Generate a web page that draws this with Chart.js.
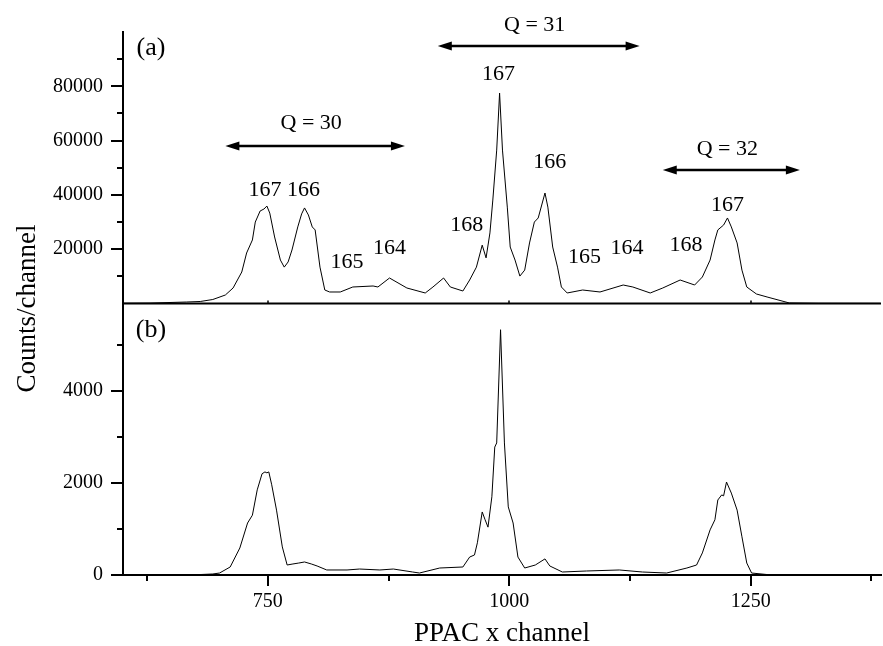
<!DOCTYPE html>
<html>
<head>
<meta charset="utf-8">
<script src="https://cdn.jsdelivr.net/npm/chart.js@4"></script>
<style>
  html, body { margin: 0; padding: 0; background: #fff; }
  #wrap { width: 883px; height: 646px; }
</style>
</head>
<body>
<div id="wrap"><canvas id="c" width="883" height="646"></canvas></div>
<script>
// ---- data: panel (a) ----
const channelA = [600, 628, 666, 680, 693, 706, 714, 723, 728, 734, 737, 742, 746, 749, 752, 757, 763, 767, 771, 775, 781, 785, 788, 792, 796, 799, 804, 809, 814, 825, 838, 859, 864, 876, 894, 913, 921, 932, 939, 952, 959, 966, 972, 976, 980, 983, 987, 990, 993, 998, 1001, 1006, 1011, 1016, 1021, 1026, 1030, 1037, 1040, 1045, 1050, 1054, 1060, 1076, 1094, 1118, 1128, 1146, 1159, 1177, 1192, 1200, 1208, 1213, 1216, 1222, 1226, 1230, 1236, 1241, 1246, 1256, 1267, 1290, 1320, 1384];
const countsA  = [100, 150, 550, 740, 1470, 3130, 5710, 11600, 18600, 23400, 30000, 34070, 34800, 35900, 33300, 24500, 16000, 13400, 15300, 19700, 28200, 33000, 35200, 32600, 28200, 27100, 13400, 4970, 4240, 4240, 6080, 6450, 6080, 9390, 5710, 3870, 6080, 9390, 6080, 4600, 8650, 13400, 21500, 16800, 26000, 38100, 56500, 77500, 56500, 35500, 20800, 16000, 10100, 12300, 22300, 30000, 31500, 40700, 35500, 20800, 13400, 6080, 3870, 4970, 4240, 6810, 6080, 3870, 5710, 8650, 6810, 9760, 16000, 23400, 27100, 28900, 31500, 28200, 22300, 12300, 6080, 3500, 2400, 200, 80, 50];

// ---- data: panel (b) ----
const channelB = [600, 680, 693, 700, 711, 721, 729, 734, 739, 744, 747, 749, 751, 754, 759, 765, 770, 776, 782, 788, 795, 801, 811, 832, 845, 866, 880, 900, 907, 928, 952, 959, 964, 967, 972, 975, 978, 982, 985, 987, 991, 995, 999, 1004, 1009, 1016, 1027, 1037, 1042, 1055, 1080, 1114, 1138, 1163, 1184, 1194, 1200, 1208, 1213, 1216, 1220, 1222, 1225, 1230, 1236, 1241, 1246, 1251, 1267, 1384];
const countsB  = [5, 10, 22, 43, 174, 587, 1130, 1300, 1850, 2200, 2240, 2220, 2240, 1960, 1410, 610, 217, 240, 260, 283, 240, 196, 109, 109, 130, 109, 130, 65, 43, 152, 174, 390, 435, 700, 1370, 1200, 1040, 1700, 2780, 2870, 5330, 2870, 1480, 1130, 390, 152, 217, 350, 196, 65, 87, 109, 65, 43, 152, 217, 480, 980, 1200, 1630, 1740, 1720, 2020, 1780, 1410, 830, 260, 43, 10, 0];

// ---- tick values ----
const xMajorTicks = [750, 1000, 1250];
const xMinorTicks = [625, 875, 1125, 1375];
const yaMajorTicks = [20000, 40000, 60000, 80000];
const yaMinorTicks = [10000, 30000, 50000, 70000, 90000];
const ybMajorTicks = [0, 2000, 4000];
const ybMinorTicks = [1000, 3000, 5000];

// ---- annotations (panel a), in data units ----
const peakLabels = ['167', '166', '165', '164', '168', '167', '166', '165', '164', '168', '167'];
const peakLabelX = [747, 787, 832, 876, 956, 989, 1042, 1078, 1122, 1183, 1226];
const peakLabelY = [41800, 41800, 15300, 20400, 28900, 84500, 52100, 17100, 20400, 21500, 36300];
const chargeLabels = ['Q = 30', 'Q = 31', 'Q = 32'];
const chargeFrom = [706, 926, 1159];
const chargeTo = [892, 1135, 1301];
const chargeArrowY = [58000, 94800, 49200];
const chargeTextY = [66500, 102600, 57000];

const FONT = '"Liberation Serif", "Times New Roman", serif';

const annotPlugin = {
  id: 'annot',
  afterDraw(chart) {
    const ctx = chart.ctx;
    const x = chart.scales.x, ya = chart.scales.ya, yb = chart.scales.yb;
    const L = chart.chartArea.left;
    ctx.save();
    ctx.strokeStyle = '#000';
    ctx.fillStyle = '#000';
    ctx.lineWidth = 2;
    // panel (a) baseline
    const y0a = ya.getPixelForValue(0);
    ctx.beginPath();
    ctx.moveTo(L, y0a); ctx.lineTo(chart.chartArea.right, y0a); ctx.stroke();
    // y ticks
    const yt = (scale, vals, len) => {
      vals.forEach(v => {
        const p = Math.round(scale.getPixelForValue(v));
        ctx.beginPath(); ctx.moveTo(L - len, p); ctx.lineTo(L, p); ctx.stroke();
      });
    };
    yt(ya, yaMajorTicks, 12); yt(ya, yaMinorTicks, 6);
    yt(yb, ybMajorTicks, 12); yt(yb, ybMinorTicks, 6);
    // x ticks
    const yB = yb.getPixelForValue(0);
    const xt = (vals, len, base, dir) => {
      vals.forEach(v => {
        const p = Math.round(x.getPixelForValue(v));
        ctx.beginPath(); ctx.moveTo(p, base); ctx.lineTo(p, base + dir * len); ctx.stroke();
      });
    };
    xt(xMajorTicks, 11, yB, 1); xt(xMinorTicks, 6, yB, 1);
    ctx.lineWidth = 1.5;
    xt(xMajorTicks, 3, y0a, -1);
    ctx.lineWidth = 2;

    // arrows
    const arrow = (x1, x2, y) => {
      const h = 14, w = 4.5;
      ctx.lineWidth = 2.5;
      ctx.beginPath(); ctx.moveTo(x1 + h - 2, y); ctx.lineTo(x2 - h + 2, y); ctx.stroke();
      ctx.beginPath(); ctx.moveTo(x1, y); ctx.lineTo(x1 + h, y - w); ctx.lineTo(x1 + h, y + w); ctx.closePath(); ctx.fill();
      ctx.beginPath(); ctx.moveTo(x2, y); ctx.lineTo(x2 - h, y - w); ctx.lineTo(x2 - h, y + w); ctx.closePath(); ctx.fill();
    };
    ctx.textAlign = 'center';
    ctx.textBaseline = 'middle';
    ctx.font = '22px ' + FONT;
    chargeLabels.forEach((t, i) => {
      const x1 = x.getPixelForValue(chargeFrom[i]), x2 = x.getPixelForValue(chargeTo[i]);
      arrow(x1, x2, ya.getPixelForValue(chargeArrowY[i]));
      ctx.fillText(t, (x1 + x2) / 2 - 4, ya.getPixelForValue(chargeTextY[i]));
    });
    peakLabels.forEach((t, i) => {
      ctx.fillText(t, x.getPixelForValue(peakLabelX[i]), ya.getPixelForValue(peakLabelY[i]));
    });
    // panel labels
    ctx.font = '26px ' + FONT;
    ctx.fillText('(a)', L + 28, chart.chartArea.top + 16);
    ctx.fillText('(b)', L + 28, y0a + 27);
    // y axis title
    ctx.font = '27px ' + FONT;
    ctx.translate(28, (chart.chartArea.top + yB) / 2 + 5);
    ctx.rotate(-Math.PI / 2);
    ctx.fillText('Counts/channel', 0, 0);
    ctx.restore();
  }
};

const yTickFont = { family: FONT, size: 20 };

new Chart(document.getElementById('c'), {
  type: 'line',
  data: {
    datasets: [
      { label: '(a)', data: channelA.map((c, i) => ({ x: c, y: countsA[i] })), yAxisID: 'ya',
        borderColor: '#000', borderWidth: 1, pointRadius: 0, tension: 0, fill: false },
      { label: '(b)', data: channelB.map((c, i) => ({ x: c, y: countsB[i] })), yAxisID: 'yb',
        borderColor: '#000', borderWidth: 1, pointRadius: 0, tension: 0, fill: false }
    ]
  },
  options: {
    responsive: false,
    animation: false,
    layout: { padding: { top: 31, right: 2, left: 0, bottom: 0 } },
    plugins: { legend: { display: false }, tooltip: { enabled: false } },
    scales: {
      x: {
        type: 'linear', min: 600, max: 1385,
        afterBuildTicks: s => { s.ticks = xMajorTicks.map(v => ({ value: v })); },
        afterFit: s => { s.height = 71; },
        ticks: { color: '#000', font: { family: FONT, size: 20 }, padding: 15, callback: v => String(v) },
        grid: { drawOnChartArea: false, drawTicks: false },
        border: { display: true, color: '#000', width: 2 },
        title: { display: true, text: 'PPAC x channel', color: '#000', font: { family: FONT, size: 27 }, padding: { top: 0, bottom: -4 } }
      },
      yb: {
        type: 'linear', position: 'left', stack: 'p', stackWeight: 1, min: 0, max: 5900,
        afterBuildTicks: s => { s.ticks = ybMajorTicks.map(v => ({ value: v })); },
        afterFit: s => { s.width = 123; },
        ticks: { color: '#000', font: yTickFont, padding: 20, callback: v => String(v) },
        grid: { drawOnChartArea: false, drawTicks: false },
        border: { display: true, color: '#000', width: 2 }
      },
      ya: {
        type: 'linear', position: 'left', stack: 'p', stackWeight: 1, min: 0, max: 100000,
        afterBuildTicks: s => { s.ticks = yaMajorTicks.map(v => ({ value: v })); },
        afterFit: s => { s.width = 123; },
        ticks: { color: '#000', font: yTickFont, padding: 20, callback: v => String(v) },
        grid: { drawOnChartArea: false, drawTicks: false },
        border: { display: true, color: '#000', width: 2 }
      }
    }
  },
  plugins: [annotPlugin]
});
</script>
</body>
</html>
